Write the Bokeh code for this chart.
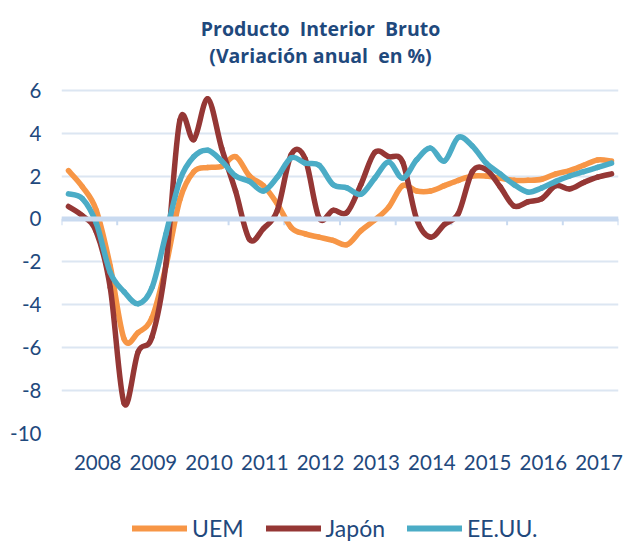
from bokeh.plotting import figure
from bokeh.layouts import column
from bokeh.models import Range1d, FixedTicker, Span, Legend, LegendItem, Label, ColumnDataSource
from bokeh.embed import file_html
from bokeh.resources import INLINE

# ---- data (quarterly, 2008Q1 .. 2017Q4) ----
years = ["2008", "2009", "2010", "2011", "2012", "2013", "2014", "2015", "2016", "2017"]
y_ticks = [-10, -8, -6, -4, -2, 0, 2, 4, 6]

uem = [2.25, 1.5, 0.4, -2.2, -5.6, -5.3, -4.6, -2.2, 0.9, 2.2,
       2.4, 2.45, 2.9, 2.0, 1.55, 0.7, -0.4, -0.7, -0.85, -1.0,
       -1.2, -0.55, -0.05, 0.55, 1.55, 1.3, 1.3, 1.55, 1.8, 2.0,
       2.0, 1.9, 1.8, 1.8, 1.85, 2.1, 2.25, 2.5, 2.75, 2.7]
japon = [0.58, 0.15, -0.6, -3.2, -8.6, -6.2, -5.5, -2.1, 4.6, 3.7,
         5.6, 3.3, 1.3, -0.95, -0.45, 0.4, 3.0, 2.8, 0.05, 0.4,
         0.3, 1.6, 3.1, 2.9, 2.65, 0.0, -0.85, -0.25, 0.25, 2.2,
         2.3, 1.5, 0.6, 0.8, 0.95, 1.55, 1.4, 1.7, 1.95, 2.1]
eeuu = [1.17, 0.95, -0.2, -2.5, -3.4, -3.95, -3.2, -0.7, 1.8, 2.9,
        3.2, 2.7, 2.0, 1.75, 1.3, 1.95, 2.85, 2.6, 2.5, 1.6,
        1.45, 1.15, 1.9, 2.65, 1.9, 2.75, 3.3, 2.7, 3.8, 3.4,
        2.6, 2.1, 1.6, 1.25, 1.45, 1.75, 2.0, 2.2, 2.4, 2.6]

series = [("UEM", uem, "#F79646"), ("Japón", japon, "#953735"), ("EE.UU.", eeuu, "#4BACC6")]
title_lines = ["Producto\u00a0 Interior\u00a0 Bruto", "(Variación anual\u00a0 en %)"]

TXT = "#1F497D"
FONT = "Lato"
QPY = 4
n_q = len(years) * QPY
Y_TOP = 10.18  # room above the 6 gridline for the two title lines


def smooth_source(vals):
    pts = [(i + 0.5, v) for i, v in enumerate(vals)]
    n = len(pts)
    d = {k: [] for k in ("x0", "y0", "x1", "y1", "cx0", "cy0", "cx1", "cy1")}
    for i in range(n - 1):
        pm = pts[i - 1] if i > 0 else pts[i]
        p0, p1 = pts[i], pts[i + 1]
        p2 = pts[i + 2] if i + 2 < n else pts[i + 1]
        d["x0"].append(p0[0]); d["y0"].append(p0[1])
        d["x1"].append(p1[0]); d["y1"].append(p1[1])
        d["cx0"].append(p0[0] + (p1[0] - pm[0]) / 6); d["cy0"].append(p0[1] + (p1[1] - pm[1]) / 6)
        d["cx1"].append(p1[0] - (p2[0] - p0[0]) / 6); d["cy1"].append(p1[1] - (p2[1] - p0[1]) / 6)
    return ColumnDataSource(d)


p = figure(width=624, height=482, output_backend="svg", toolbar_location=None,
           x_range=Range1d(0, n_q), y_range=Range1d(y_ticks[0], Y_TOP),
           min_border_left=61, min_border_right=6, min_border_top=0, min_border_bottom=49,
           title=None)
p.outline_line_color = None
p.background_fill_color = "white"
p.border_fill_color = "white"

# title (two centred lines)
for txt, yv in zip(title_lines, [8.88, 7.62]):
    p.add_layout(Label(x=18.6, y=yv, text=txt, text_align="center", text_baseline="middle",
                       text_font="Open Sans", text_font_size="19.5px", text_font_style="bold",
                       text_color=TXT))

# y axis
p.yaxis.ticker = FixedTicker(ticks=y_ticks)
p.yaxis.major_label_overrides = {t: ("-%d" % -t if t < 0 else str(t)) for t in y_ticks}
p.yaxis.axis_line_color = None
p.yaxis.major_tick_line_color = None
p.yaxis.major_tick_out = 0
p.yaxis.major_tick_in = 0
p.yaxis.minor_tick_line_color = None
p.yaxis.major_label_standoff = 20
p.yaxis.major_label_text_font = FONT
p.yaxis.major_label_text_font_size = "20.5px"
p.yaxis.major_label_text_color = TXT

# x axis (year labels)
label_pos = [QPY * k + 2.6 for k in range(len(years))]
p.xaxis.ticker = FixedTicker(ticks=label_pos)
p.xaxis.major_label_overrides = {pos: yr for pos, yr in zip(label_pos, years)}
p.xaxis.axis_line_color = None
p.xaxis.major_tick_line_color = None
p.xaxis.major_tick_out = 0
p.xaxis.major_tick_in = 0
p.xaxis.minor_tick_line_color = None
p.xaxis.major_label_standoff = 21
p.xaxis.major_label_text_font = FONT
p.xaxis.major_label_text_font_size = "20.5px"
p.xaxis.major_label_text_color = TXT

p.xgrid.grid_line_color = None
p.ygrid.grid_line_color = "#DCE6F2"
p.ygrid.grid_line_width = 2

# zero line with year-boundary ticks
p.add_layout(Span(location=0, dimension="width", line_color="#C9DAF0", line_width=5))
bounds = [QPY * k for k in range(len(years) + 1)]
p.segment(x0=bounds, y0=[0] * len(bounds), x1=bounds, y1=[-0.3] * len(bounds),
          line_color="#C9DAF0", line_width=2)

for name, vals, col in series:
    src = smooth_source(vals)
    p.bezier(x0="x0", y0="y0", x1="x1", y1="y1", cx0="cx0", cy0="cy0", cx1="cx1", cy1="cy1",
             source=src, line_color=col, line_width=5.5, line_cap="round")

# legend strip below the chart (legend-only renderers hold a single NaN point)
pl = figure(width=624, height=60, output_backend="svg", toolbar_location=None,
            x_range=Range1d(0, 1), y_range=Range1d(0, 1),
            x_axis_location=None, y_axis_location=None,
            min_border_left=0, min_border_right=0, min_border_top=0, min_border_bottom=0)
pl.outline_line_color = None
pl.xgrid.grid_line_color = None
pl.ygrid.grid_line_color = None
items = []
nan = float("nan")
for name, vals, col in series:
    r = pl.line(x=[nan], y=[nan], line_color=col, line_width=6, line_cap="round")
    items.append(LegendItem(label=name, renderers=[r]))
legend = Legend(items=items, orientation="horizontal", location=(71, 0),
                label_text_font=FONT, label_text_font_size="23px", label_text_color=TXT,
                glyph_width=55, glyph_height=22, label_standoff=5, spacing=22,
                padding=0, margin=0, border_line_color=None, background_fill_alpha=0)
pl.add_layout(legend, "center")

open("out.html", "w").write(file_html(column(p, pl, spacing=0), INLINE))
